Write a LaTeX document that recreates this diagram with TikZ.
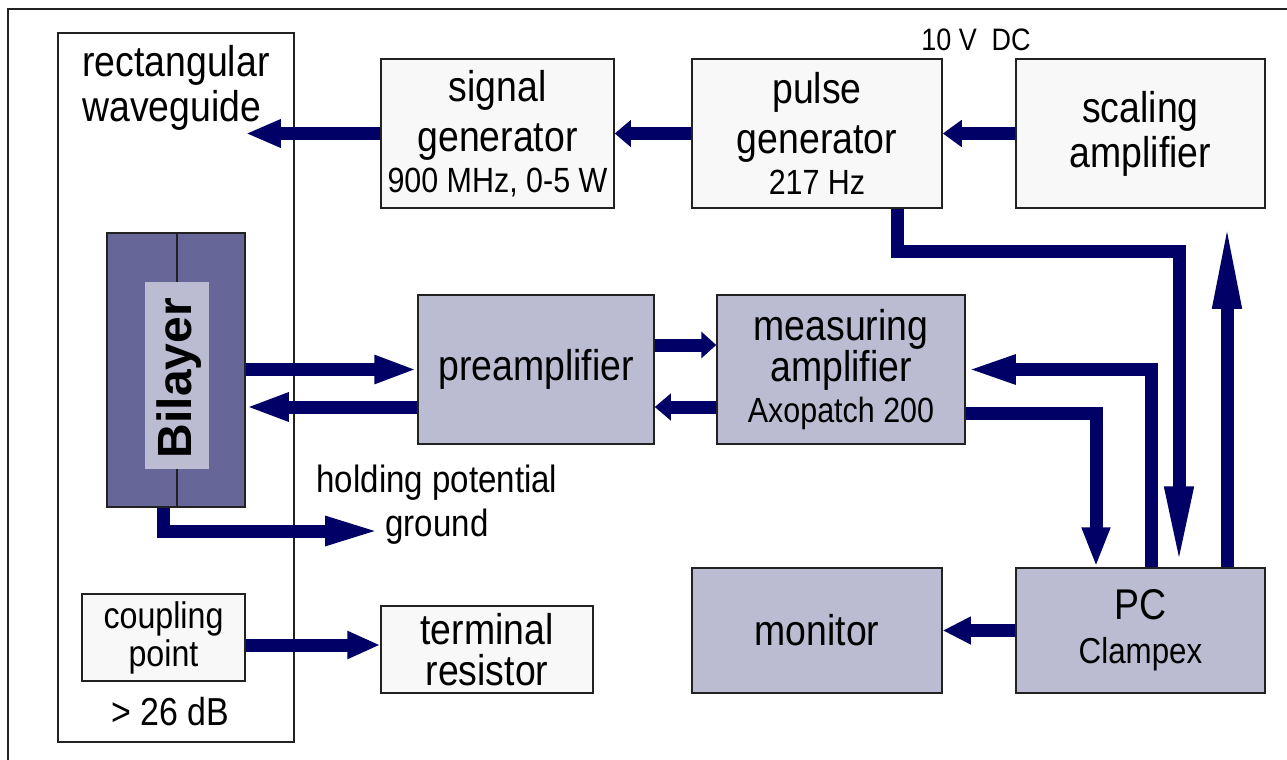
\documentclass[tikz,border=0pt]{standalone}
\usepackage{fontspec}
\setmainfont{Liberation Sans}[FakeStretch=0.87]
\newfontfamily\widesans{Liberation Sans}
\usetikzlibrary{arrows.meta,positioning}
\definecolor{nv}{RGB}{0,0,102}
\definecolor{lg}{RGB}{248,248,248}
\definecolor{lv}{RGB}{187,187,210}
\definecolor{dv}{RGB}{102,102,153}
\definecolor{fr}{RGB}{34,34,34}
\newcommand{\bigtxt}{\fontsize{21.5}{25}\selectfont}
\newcommand{\smalltxt}{\fontsize{17.5}{20.5}\selectfont}
\tikzset{
	blk/.style={draw=fr,line width=0.75pt,fill=lg,inner sep=0pt,align=center,font=\bigtxt},
	vblk/.style={blk,fill=lv},
	arr/.style={nv,line width=6.5pt,-{Triangle[length=#1,width=13pt]}}
}
\begin{document}
\begin{tikzpicture}[x=0.5pt,y=-0.5pt]
	\useasboundingbox (0,0) rectangle (1287,760);
	\draw[fr,line width=0.75pt] (8,760) -- (8,9) -- (1287,9);
	\node[blk,fill=white,minimum width=118pt,minimum height=354.5pt] (wg) at (176,387.5) {};
	\node[anchor=north west,align=left,font=\bigtxt,inner sep=0pt] (wgtxt) at (82,45) {rectangular\\[-2.5pt]waveguide};
	\node[blk,minimum width=116.5pt,minimum height=74.5pt] (sig) at (497.5,133.5) {signal\\generator\\[-4.5pt]{\smalltxt 900 MHz, 0-5 W}};
	\node[blk,minimum width=125pt,minimum height=74.5pt,right of=sig,node distance=159.75pt] (pulse) {pulse\\generator\\[-4.5pt]{\smalltxt 217 Hz}};
	\node[blk,minimum width=124.5pt,minimum height=74.5pt,right of=pulse,node distance=161.75pt] (scal) {scaling\\[-2.5pt]amplifier};
	\node[font=\fontsize{15.5}{18}\selectfont] (dc) at (976,40) {10 V\ \ DC};
	\node[vblk,minimum width=118pt,minimum height=74.5pt] (pre) at (536,369.5) {preamplifier};
	\node[vblk,minimum width=124pt,minimum height=74.5pt,right of=pre,node distance=152.5pt] (meas) {measuring\\[-4.5pt]amplifier\\[-4.5pt]{\smalltxt Axopatch 200}};
	\node[vblk,minimum width=125pt,minimum height=62.5pt,below of=pulse,node distance=248.5pt] (mon) {monitor};
	\node[vblk,minimum width=124.5pt,minimum height=62.5pt,right of=mon,node distance=161.75pt] (pc) {PC\\[-3pt]{\fontsize{18}{20.5}\selectfont Clampex}};
	\node[blk,minimum width=81.5pt,minimum height=43.5pt,font=\fontsize{18.5}{19}\selectfont] (coup) at (163.5,637.5) {coupling\\point};
	\node[blk,minimum width=106pt,minimum height=43.5pt] (term) at (487,649.5) {terminal\\[-4.5pt]resistor};
	\node[font=\fontsize{19.5}{22}\selectfont] (db) at (170,712) {> 26 dB};
	\node[draw=fr,line width=0.75pt,fill=dv,minimum width=69pt,minimum height=137pt,inner sep=0pt] (bil) at (176,370) {};
	\node[fill=lv,minimum width=32pt,minimum height=93.5pt,inner sep=0pt] (bilin) at (177,375.5) {};
	\node[rotate=90,font=\widesans\fontsize{24}{26}\selectfont\bfseries] (biltxt) at (179,378) {Bilayer};
	\draw[fr,line width=0.75pt] (bilin.north) -- (bilin.north |- bil.north) (bilin.south) -- (bilin.south |- bil.south);
	\node[font=\fontsize{19}{22}\selectfont,align=center] (hold) at (437,505) {holding potential\\ground};
	\coordinate (gnd) at (382,531);
	\coordinate (back) at ([yshift=-18.75pt]pre.west);

	\draw[arr=17.5pt] (sig.west) -- (bil.east |- sig.west);
	\draw[arr=8pt] (pulse.west) -- (sig.east);
	\draw[arr=9.5pt] (scal.west) -- (pulse.east);
	\draw[arr=40.5pt] ([xshift=40pt]pulse.south) -- ++(0,43) -| ([xshift=19.25pt]pc.north);
	\draw[arr=44pt] ([xshift=43.25pt]pc.north) -- ([xshift=43.25pt,yshift=-6pt]scal.south);
	\draw[arr=21.5pt] (bil.east |- pre.west) -- (pre.west);
	\draw[arr=21.5pt] (back) -- (bil.east |- back);
	\draw[arr=7.5pt] ([yshift=12.25pt]pre.east) -- ([yshift=12.25pt]meas.west);
	\draw[arr=8pt] ([yshift=-18.75pt]meas.west) -- ([yshift=-18.75pt]pre.east);
	\draw[arr=25pt] ([xshift=5.25pt]pc.north) |- (meas.east);
	\draw[arr=20pt] ([yshift=-21.75pt]meas.east) -| ([xshift=-22.25pt]pc.north);
	\draw[arr=28.5pt] ([xshift=-6.5pt]bil.south) |- (gnd);
	\draw[arr=14pt] (pc.west) -- (mon.east);
	\draw[arr=16.5pt] ([yshift=-3.75pt]coup.east) -- ([yshift=2.25pt]term.west);
\end{tikzpicture}
\end{document}
